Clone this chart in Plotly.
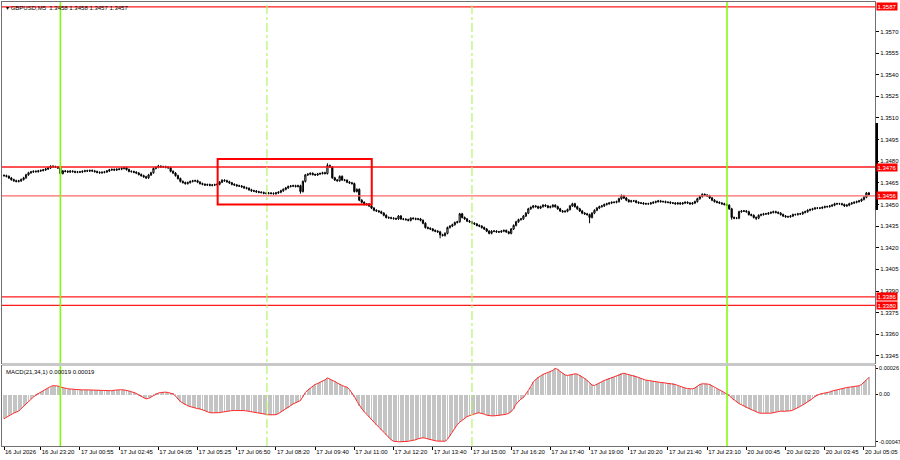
import plotly.graph_objects as go

# ---- data (GBPUSD M5) ----
BASE = 1.3400
PIP = 0.0001
# closes, in pips above 1.3400, one per bar
close_pips = [
    70.0, 69.5, 68.4, 67.2, 66.5, 66.0, 66.4, 67.3, 68.5, 70.6,
    72.0, 72.6, 73.0, 72.8, 73.3, 73.6, 74.0, 74.6, 75.4, 76.5,
    76.2, 76.0, 75.4, 71.5, 73.2, 73.0, 72.6, 73.1, 72.8, 72.4,
    72.6, 72.5, 73.0, 73.4, 73.2, 73.6, 73.3, 72.8, 72.3, 72.0,
    72.3, 72.6, 73.2, 74.0, 74.3, 73.9, 74.4, 74.5, 75.0, 75.5,
    74.2, 73.0, 72.8, 72.4, 71.8, 70.8, 70.0, 69.2, 68.5, 70.5,
    72.0, 75.0, 75.8, 76.5, 76.0, 76.2, 75.8, 75.5, 73.0, 71.8,
    70.0, 68.0, 66.0, 65.2, 64.5, 65.2, 66.0, 66.4, 66.5, 65.5,
    64.5, 64.0, 63.5, 63.8, 63.3, 63.5, 63.7, 64.0, 65.5, 66.8,
    66.5, 65.8, 65.0, 64.0, 63.6, 63.0, 62.8, 62.3, 61.6, 61.2,
    60.2, 59.5, 59.3, 58.8, 58.5, 58.3, 57.8, 57.7, 57.9, 57.7,
    57.5, 58.0, 58.5, 59.5, 60.5, 61.5, 62.5, 62.8, 63.0, 62.5,
    63.0, 59.0, 66.0, 70.5, 71.0, 71.6, 70.8, 70.5, 71.2, 71.5,
    72.0, 71.5, 77.0, 76.0, 68.5, 67.0, 66.5, 69.5, 67.0, 66.8,
    65.5, 65.0, 64.5, 59.0, 60.5, 53.0, 51.5, 50.0, 50.3, 49.0,
    47.5, 46.0, 45.5, 45.0, 44.0, 42.5, 41.0, 40.8, 40.5, 40.2,
    40.0, 42.0, 40.0, 39.8, 39.5, 39.0, 40.5, 40.2, 39.8, 40.0,
    39.0, 37.0, 34.0, 33.5, 33.0, 32.0, 31.5, 31.0, 29.0, 28.5,
    30.0, 34.0, 35.0, 36.0, 37.5, 38.0, 43.5, 41.0, 40.0, 38.5,
    38.0, 37.0, 36.5, 35.5, 35.0, 34.0, 33.0, 31.5, 30.0, 31.5,
    31.5, 31.0, 31.0, 31.5, 32.0, 31.0, 30.0, 33.0, 35.5, 38.0,
    39.5, 40.0, 42.0, 44.0, 47.0, 48.0, 49.0, 48.5, 47.5, 48.5,
    49.5, 49.0, 48.0, 48.5, 49.5, 48.5, 47.0, 45.5, 45.0, 45.3,
    46.5, 49.0, 50.5, 48.5, 47.0, 45.5, 44.0, 43.5, 43.0, 41.0,
    44.0, 46.0, 47.5, 48.5, 49.0, 50.0, 50.5, 51.0, 51.5, 51.5,
    52.0, 54.0, 56.0, 54.5, 53.0, 52.0, 52.5, 52.5, 51.5, 51.0,
    51.0, 50.5, 50.5, 50.5, 51.0, 51.5, 52.0, 52.5, 52.0, 52.0,
    51.5, 51.5, 51.0, 51.0, 50.5, 51.0, 50.5, 51.0, 51.5, 51.0,
    50.5, 51.0, 52.0, 54.0, 55.5, 57.0, 56.5, 56.0, 54.5, 53.0,
    52.0, 51.5, 51.0, 50.5, 50.0, 49.5, 47.0, 41.0, 40.5, 40.5,
    45.0, 45.5, 45.5, 45.0, 43.0, 42.5, 41.0, 40.5, 42.5, 43.0,
    43.5, 43.5, 44.0, 44.5, 45.0, 44.5, 44.0, 43.0, 42.0, 41.5,
    41.5, 42.0, 43.0, 43.0, 43.5, 43.5, 44.5, 45.0, 46.0, 46.5,
    47.0, 47.5, 47.5, 47.5, 48.0, 48.5, 48.5, 49.0, 49.5, 50.5,
    50.5, 50.5, 50.0, 49.0, 49.5, 50.5, 51.0, 51.5, 52.0, 52.5,
    53.5, 55.0, 58.0, 57.0,
]
first_open_pips = 70.2
# notable wick extremes (bar index -> pips)
spike_high_idx = [132, 63, 19, 252, 285]
spike_high_val = [78.6, 77.5, 77.2, 57.0, 57.8]
spike_low_idx = [178, 239, 121, 297, 307]
spike_low_val = [26.6, 37.0, 57.5, 39.5, 39.2]

# MACD(21,34,1) main value per bar, in units of 0.00001
macd_e5 = [
    -24, -22.5, -21, -19.5, -18.5, -17.5, -16.5, -14, -11.5, -9,
    -6.5, -4.5, -2.5, -0.5, 1, 2.5, 4, 5.5, 7, 8,
    8.8, 9, 8.5, 7.5, 6.8, 6.2, 5.8, 5.5, 5.2, 5,
    4.8, 4.6, 4.6, 4.7, 4.6, 4.5, 4.6, 4.5, 4.4, 4.2,
    3.8, 3.5, 3.3, 3.3, 3.8, 4.3, 4.6, 4.7, 4.8, 4.6,
    4.4, 3.5, 2.8, 2.3, 1.2, -0.5, -2, -3.5, -4.3, -3.8,
    -2.5, -1, 0.6, 1.5, 2, 2.3, 2.4, 2, 1.3, 0.6,
    -1.5, -4.5, -7, -8.5, -10, -11.2, -12, -12.8, -13.5, -14,
    -14.3, -15.3, -16.3, -17.3, -18, -18.2, -18.3, -18.2, -18, -17.5,
    -17, -16.5, -16.2, -16, -15.9, -15.8, -15.8, -15.9, -16, -16.3,
    -16.8, -17.2, -17.6, -18.2, -18.8, -19.3, -19.7, -20, -20.1, -20.2,
    -20.2, -20, -19, -17.5, -16, -14.8, -13, -11, -9.3, -8.3,
    -7, -6, -2, 2, 4.5, 6.5, 8.5, 10, 11, 12.2,
    13.2, 14.5, 16.5, 15.5, 14, 13, 11.5, 10, 9, 8,
    7.3, 5, 2, -2, -6.5, -11, -14, -17, -19.8, -22.5,
    -25, -27.5, -30, -32.5, -35, -37.5, -40, -43, -45, -46.5,
    -47, -47, -47, -47, -46.8, -46.5, -46, -45.7, -45, -44,
    -43.3, -43, -43.5, -44.3, -45, -45.7, -46, -46.3, -46.5, -46.5,
    -46.5, -44.5, -41, -37, -33, -30, -27.5, -25.5, -23.5, -22,
    -21, -20, -19, -18.5, -18.2, -18.5, -19.5, -20.5, -21, -21.2,
    -21.2, -21, -21, -20.5, -20, -19.5, -18.8, -17, -14, -9.5,
    -6.5, -4.5, -3, 0, 4, 8, 12.3, 15, 17, 18.5,
    20, 21, 21.5, 22.2, 24, 26, 25, 23, 21, 19.5,
    19, 19.5, 20, 20.6, 20.3, 19, 17.5, 16, 14, 11.5,
    9.5, 9, 10, 11.5, 12.8, 14, 15, 16, 17, 17.3,
    18.5, 20, 21, 21.2, 20.5, 19.8, 19.3, 19, 18, 17,
    16, 15, 14.3, 14, 13.5, 13, 12.5, 12.3, 12, 11.8,
    11.5, 11.3, 11.3, 11, 10, 9, 8, 7.3, 6.5, 6,
    5.6, 5.6, 6.5, 8.5, 10, 10.7, 10.8, 10.5, 10, 8.5,
    7, 5.8, 4.7, 3.5, 2, 0.8, -1, -3.5, -5.5, -7.7,
    -9, -10.2, -11.5, -13, -14, -15, -16, -17.2, -18.2, -18.6,
    -18.8, -18.8, -18.6, -18.6, -18, -17, -16.5, -16.5, -16.7, -16.6,
    -16.5, -16.2, -15.5, -14.5, -13.2, -11.8, -10.5, -9, -7.7, -6,
    -4, -2, -0.5, 0.5, 1, 1.3, 1.6, 2.5, 3.5, 4.2,
    4.7, 5.3, 6, 6.5, 7, 7.3, 7.5, 7.8, 8.2, 8.7,
    10, 12, 14.5, 17,
]

tick_bars = [0, 15, 31, 47, 63, 79, 95, 111, 127, 143, 159, 175, 191, 207,
             223, 239, 255, 271, 287, 303, 319, 335, 351]
tick_text = ["16 Jul 2026", "16 Jul 23:20", "17 Jul 00:55", "17 Jul 02:45",
             "17 Jul 04:05", "17 Jul 05:25", "17 Jul 06:50", "17 Jul 08:20",
             "17 Jul 09:40", "17 Jul 11:00", "17 Jul 12:20", "17 Jul 13:40",
             "17 Jul 15:00", "17 Jul 16:20", "17 Jul 17:40", "17 Jul 19:00",
             "17 Jul 20:20", "17 Jul 21:40", "17 Jul 23:10", "20 Jul 00:45",
             "20 Jul 02:20", "20 Jul 03:45", "20 Jul 05:05"]
price_ticks = [1.3345, 1.3360, 1.3375, 1.3390, 1.3405, 1.3420, 1.3435, 1.3450,
               1.3465, 1.3480, 1.3495, 1.3510, 1.3525, 1.3540, 1.3555, 1.3570]
levels = [1.3587, 1.3476, 1.3456, 1.3386, 1.3380]
level_colors = ["#ff1a1a", "#ff1a1a", "#ff6a6a", "#ff1a1a", "#ff1a1a"]
vlines_solid = [23.0, 295.1]
vlines_dash = [107.3, 191.0]
box_bars = [87.2, 150.1]
box_prices = [1.3450, 1.34815]
axis_bar = [1.34462, 1.35065]
macd_ticks = [0.00026, 0.0, -0.00047]
macd_ticktext = ["0.00026", "0.00", "-0.00047"]
header = "\u25be GBPUSD,M5  1.3458 1.3458 1.3457 1.3457"
macd_label = "MACD(21,34,1) 0.00019 0.00019"

# ---- build OHLC ----
n = len(close_pips)
assert len(macd_e5) == n, (len(macd_e5), n)
idx = list(range(n))
closes = [BASE + c * PIP for c in close_pips]
opens = [BASE + first_open_pips * PIP] + closes[:-1]
wick = 0.7 * PIP
highs = [max(o, c) + wick for o, c in zip(opens, closes)]
lows = [min(o, c) - wick for o, c in zip(opens, closes)]
for k, v in zip(spike_high_idx, spike_high_val):
    highs[k] = max(highs[k], BASE + v * PIP)
for k, v in zip(spike_low_idx, spike_low_val):
    lows[k] = min(lows[k], BASE + v * PIP)
macd = [v * 1e-5 for v in macd_e5]

fig = go.Figure()
fig.add_trace(go.Candlestick(
    x=idx, open=opens, high=highs, low=lows, close=closes,
    increasing=dict(line=dict(color="#000000", width=1), fillcolor="#ffffff"),
    decreasing=dict(line=dict(color="#000000", width=1), fillcolor="#000000"),
    whiskerwidth=0, xaxis="x", yaxis="y", showlegend=False, hoverinfo="skip"))
fig.add_trace(go.Bar(
    x=idx, y=macd, width=0.38, marker=dict(color="#c4c4c4", line=dict(width=0)),
    xaxis="x2", yaxis="y2", showlegend=False, hoverinfo="skip"))
fig.add_trace(go.Scatter(
    x=idx, y=macd, mode="lines", line=dict(color="#ff2a2a", width=1),
    xaxis="x2", yaxis="y2", showlegend=False, hoverinfo="skip"))

shapes = []
for lv, col in zip(levels, level_colors):
    shapes.append(dict(type="line", xref="x domain", yref="y", x0=0, x1=1,
                       y0=lv, y1=lv, line=dict(color=col, width=1.3)))
for xv in vlines_solid:
    shapes.append(dict(type="line", xref="x", yref="paper", x0=xv, x1=xv,
                       y0=0, y1=1, line=dict(color="#7cfc00", width=1.5)))
for xv in vlines_dash:
    shapes.append(dict(type="line", xref="x", yref="paper", x0=xv, x1=xv,
                       y0=0, y1=1, line=dict(color="#b4f56a", width=1.2, dash="dashdot")))
shapes.append(dict(type="rect", xref="x", yref="y", x0=box_bars[0], x1=box_bars[1],
                   y0=box_prices[0], y1=box_prices[1],
                   line=dict(color="#ff0000", width=2), fillcolor="rgba(0,0,0,0)"))
# panel separator
shapes.append(dict(type="rect", xref="paper", yref="paper", x0=0, x1=1,
                   y0=0.1802, y1=0.1869, line=dict(width=0), fillcolor="#c8c8c8"))
# axis marker bar
shapes.append(dict(type="line", xref="paper", yref="y", x0=1.002, x1=1.002,
                   y0=axis_bar[0], y1=axis_bar[1], line=dict(color="#000000", width=2.5)))

annotations = []
for lv in levels:
    annotations.append(dict(xref="paper", yref="y", x=1.0, y=lv, xanchor="left",
                            yanchor="middle", text="%.4f" % lv, showarrow=False,
                            font=dict(color="#ffffff", size=6, family="Liberation Sans"),
                            bgcolor="#ff0000", borderpad=0.5, xshift=1))
annotations.append(dict(xref="paper", yref="paper", x=0.002, y=1.0, xanchor="left",
                        yanchor="top", text=header, showarrow=False, yshift=-1,
                        font=dict(color="#000000", size=6, family="Liberation Sans")))
annotations.append(dict(xref="paper", yref="paper", x=0.002, y=0.1802, xanchor="left",
                        yanchor="top", text=macd_label, showarrow=False, yshift=-1,
                        font=dict(color="#000000", size=6, family="Liberation Sans")))

axis_font = dict(color="#000000", size=6, family="Liberation Sans")
macd_font = dict(color="#000000", size=5.5, family="Liberation Sans")
fig.update_layout(
    width=900, height=460,
    margin=dict(l=2, r=25, t=2, b=14, autoexpand=False),
    paper_bgcolor="#ffffff", plot_bgcolor="#ffffff",
    shapes=shapes, annotations=annotations, bargap=0,
    xaxis=dict(domain=[0, 1], range=[-0.82, 355.5], anchor="y", automargin=False,
               showticklabels=False, showgrid=False, zeroline=False,
               rangeslider=dict(visible=False), showline=True, mirror=True,
               linecolor="#707070", linewidth=1, ticks=""),
    yaxis=dict(domain=[0.1869, 1], range=[1.334008, 1.359042], side="right",
               tickvals=price_ticks, ticktext=["%.4f" % t for t in price_ticks],
               ticks="outside", ticklen=3, tickcolor="#000000", tickfont=axis_font,
               automargin=False, showgrid=False, zeroline=False, showline=True,
               mirror=True, linecolor="#707070", linewidth=1),
    xaxis2=dict(domain=[0, 1], range=[-0.82, 355.5], anchor="y2", matches="x",
                tickvals=tick_bars, ticktext=tick_text, ticks="outside", ticklen=3,
                tickangle=0, automargin=False,
                tickcolor="#000000", tickfont=axis_font, ticklabelposition="outside right",
                showgrid=False, zeroline=False, showline=True, mirror=True,
                linecolor="#707070", linewidth=1),
    yaxis2=dict(domain=[0, 0.1802], range=[-51.2e-5, 28.4e-5], side="right",
                tickvals=macd_ticks, ticktext=macd_ticktext, ticks="outside", ticklen=2,
                automargin=False,
                tickcolor="#000000", tickfont=macd_font, showgrid=False,
                zeroline=False, showline=True, mirror=True,
                linecolor="#707070", linewidth=1),
)

fig.write_html("out.html", config={"displayModeBar": False},
               post_script="document.body.style.margin='0';"
                           "document.body.style.overflow='hidden';")
